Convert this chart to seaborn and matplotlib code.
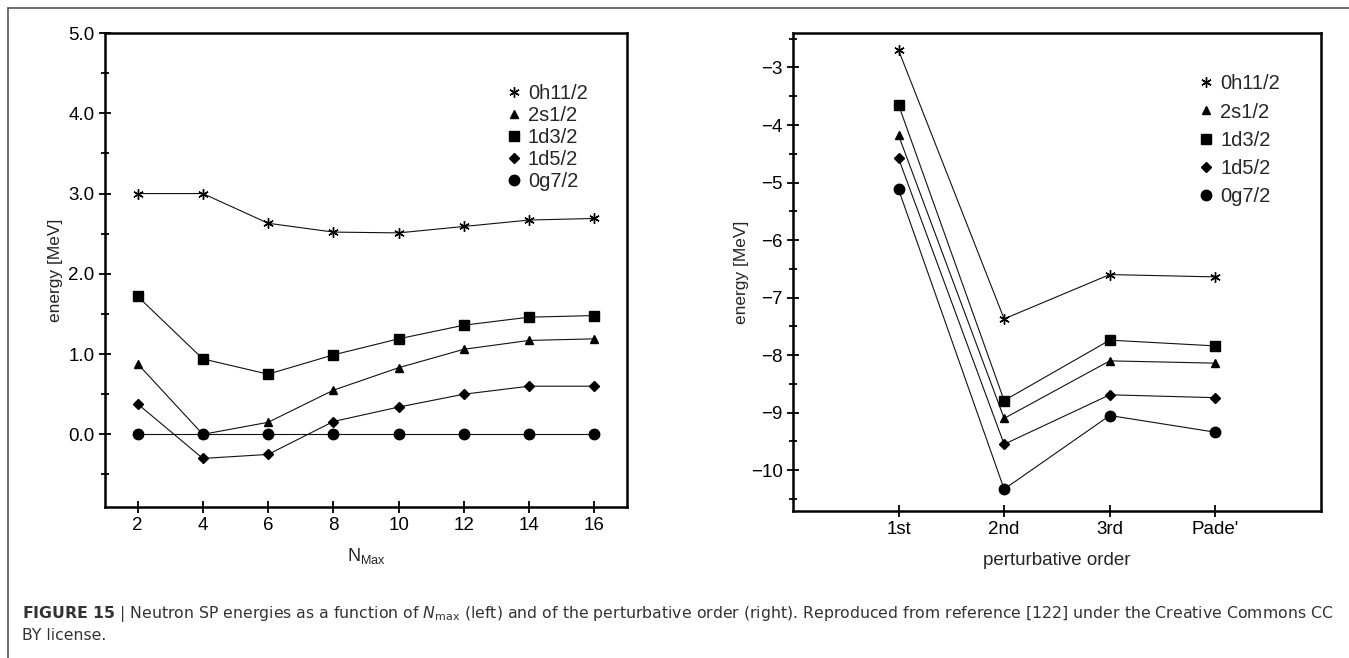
import numpy as np
import pandas as pd
import matplotlib
matplotlib.use("Agg")
import matplotlib.pyplot as plt
from matplotlib.lines import Line2D
from matplotlib.ticker import MultipleLocator, FormatStrFormatter
import seaborn as sns

# Data
states = ["0h11/2", "2s1/2", "1d3/2", "1d5/2", "0g7/2"]

nmax = [2, 4, 6, 8, 10, 12, 14, 16]
nmax_h11 = [3.00, 3.00, 2.63, 2.52, 2.51, 2.59, 2.67, 2.69]
nmax_s1 = [0.88, 0.00, 0.15, 0.55, 0.83, 1.06, 1.17, 1.19]
nmax_d3 = [1.72, 0.94, 0.75, 0.99, 1.19, 1.36, 1.46, 1.48]
nmax_d5 = [0.38, -0.30, -0.25, 0.16, 0.34, 0.50, 0.60, 0.60]
nmax_g7 = [0.00, 0.00, 0.00, 0.00, 0.00, 0.00, 0.00, 0.00]

orders = ["1st", "2nd", "3rd", "Pade'"]
order_h11 = [-2.70, -7.37, -6.60, -6.64]
order_s1 = [-4.18, -9.10, -8.10, -8.14]
order_d3 = [-3.65, -8.79, -7.74, -7.84]
order_d5 = [-4.58, -9.55, -8.69, -8.74]
order_g7 = [-5.12, -10.33, -9.05, -9.34]

caption = (r"$\mathbf{FIGURE\ 15}$ | Neutron SP energies as a function of $N_{\mathrm{max}}$ "
           "(left) and of the perturbative order (right). Reproduced from reference [122] "
           "under the Creative Commons CC")
caption2 = "BY license."

# Marker styles per state
marker_map = {"0h11/2": (6, 2, 0), "2s1/2": "^", "1d3/2": "s", "1d5/2": "D", "0g7/2": "o"}
size_map = {"0h11/2": 7.5, "2s1/2": 6, "1d3/2": 7.5, "1d5/2": 4.8, "0g7/2": 7.5}

left_df = pd.DataFrame({"nmax": nmax * 5,
                        "energy": nmax_h11 + nmax_s1 + nmax_d3 + nmax_d5 + nmax_g7,
                        "state": np.repeat(states, len(nmax))})
right_df = pd.DataFrame({"order": orders * 5,
                         "energy": order_h11 + order_s1 + order_d3 + order_d5 + order_g7,
                         "state": np.repeat(states, len(orders))})

sns.set_theme(style="ticks")
plt.rcParams["font.family"] = ["Liberation Sans", "DejaVu Sans"]
plt.rcParams["mathtext.fontset"] = "custom"
plt.rcParams["mathtext.rm"] = "Liberation Sans"
plt.rcParams["mathtext.it"] = "Liberation Sans:italic"
plt.rcParams["mathtext.bf"] = "Liberation Sans:bold"

fig = plt.figure(figsize=(13.49, 6.58), dpi=100)
ax1 = fig.add_axes([0.0778, 0.2295, 0.387, 0.7203])
ax2 = fig.add_axes([0.5878, 0.2234, 0.3914, 0.7265])


def draw_series(ax, df, xcol):
    for st in states:
        sub = df[df["state"] == st]
        sns.lineplot(data=sub, x=xcol, y="energy", ax=ax, color="#111111", lw=0.8,
                     marker=marker_map[st], markersize=size_map[st],
                     markeredgecolor="black", markerfacecolor="black",
                     markeredgewidth=1.0, sort=False, legend=False)


def style_axes(ax):
    for sp in ax.spines.values():
        sp.set_linewidth(1.8)
        sp.set_color("black")
        sp.set_visible(True)
    ax.tick_params(axis="both", which="major", direction="inout", length=8, width=1.3,
                   labelsize=13.5, color="black", labelcolor="black", top=False, right=False)
    ax.tick_params(axis="y", which="minor", direction="inout", length=6, width=1.3,
                   color="black", right=False)
    ax.grid(False)


def add_legend(ax, spacing, anchor):
    handles = [Line2D([], [], ls="none", marker=marker_map[st], markersize=size_map[st],
                      color="black", markeredgewidth=1.0) for st in states]
    ax.legend(handles, states, loc="upper left", bbox_to_anchor=anchor, frameon=False,
              fontsize=14.5, handlelength=0.8, handletextpad=0.3, labelspacing=spacing,
              borderaxespad=0)


# Left panel
draw_series(ax1, left_df, "nmax")
ax1.set_xlim(1, 17)
ax1.set_ylim(-0.905, 5.0)
ax1.set_xticks(nmax)
ax1.yaxis.set_major_locator(MultipleLocator(1.0))
ax1.yaxis.set_minor_locator(MultipleLocator(0.5))
ax1.yaxis.set_major_formatter(FormatStrFormatter("%.1f"))
ax1.set_xlabel(r"N$_{\mathrm{Max}}$", fontsize=13, labelpad=8)
ax1.set_ylabel("energy [MeV]", fontsize=12.5, labelpad=4)
style_axes(ax1)
add_legend(ax1, 0.15, (0.752, 0.91))

# Right panel
draw_series(ax2, right_df, "order")
ax2.set_xlim(-1, 4)
ax2.set_ylim(-10.71, -2.4)
ax2.yaxis.set_major_locator(MultipleLocator(1.0))
ax2.yaxis.set_minor_locator(MultipleLocator(0.5))
ax2.set_xlabel("perturbative order", fontsize=13.5, labelpad=10)
ax2.set_ylabel("energy [MeV]", fontsize=12.5, labelpad=1)
style_axes(ax2)
add_legend(ax2, 0.45, (0.752, 0.93))

# Figure frame (top and left) and caption
fig.add_artist(Line2D([8 / 1349, 1.0], [1 - 8 / 658, 1 - 8 / 658], color="#555555", lw=1.2))
fig.add_artist(Line2D([8 / 1349, 8 / 1349], [1 - 8 / 658, 0.0], color="#555555", lw=1.2))
cap_kw = dict(color="#333333", va="center", ha="left", family="DejaVu Sans",
              math_fontfamily="dejavusans")
t1 = fig.text(22 / 1349, 1 - 614 / 658, caption, fontsize=11, **cap_kw)
t2 = fig.text(22 / 1349, 1 - 635 / 658, caption2, fontsize=11, **cap_kw)

# fit the first caption line to the width seen in the reference
target_px = 1338 - 22
for _ in range(2):
    fig.canvas.draw()
    w = t1.get_window_extent().width
    fs = t1.get_fontsize() * target_px / w
    t1.set_fontsize(fs)
    t2.set_fontsize(fs)

fig.savefig("out.png", dpi=100)
